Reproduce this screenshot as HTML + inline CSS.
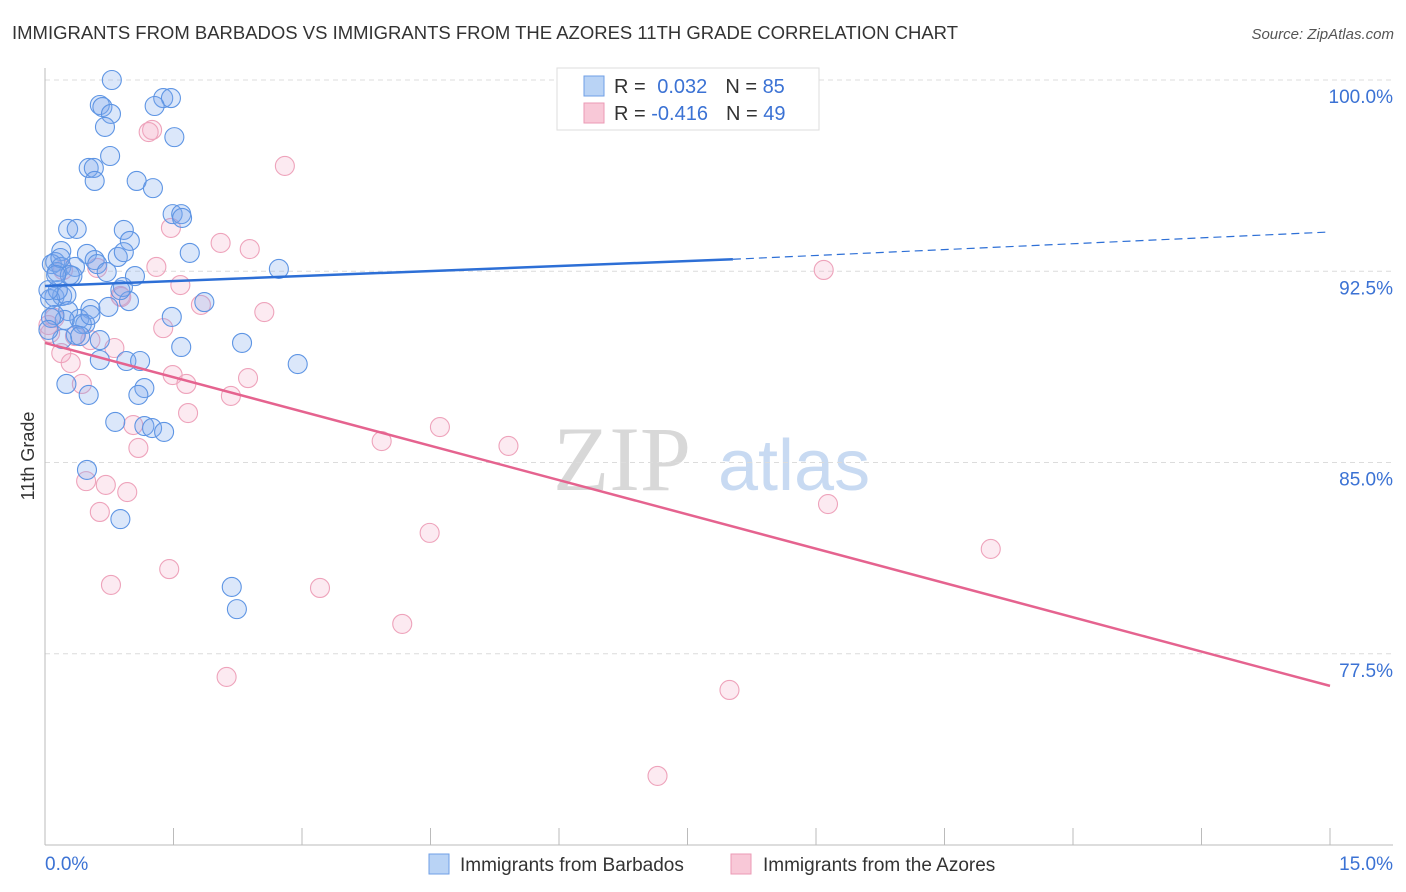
<!DOCTYPE html>
<html><head><meta charset="utf-8"><style>
body{margin:0;background:#fff;font-family:"Liberation Sans",sans-serif;}
svg{display:block}
</style></head><body>
<svg id="chart" width="1406" height="892" viewBox="0 0 1406 892" xmlns="http://www.w3.org/2000/svg">
<text x="12" y="39" font-size="18" fill="#333" textLength="946" lengthAdjust="spacingAndGlyphs">IMMIGRANTS FROM BARBADOS VS IMMIGRANTS FROM THE AZORES 11TH GRADE CORRELATION CHART</text>
<text x="1394" y="39" font-size="15" fill="#555" text-anchor="end" font-style="italic">Source: ZipAtlas.com</text>
<g>
<text x="553" y="490" font-size="92" fill="#d8d8d8" font-family="Liberation Serif,serif">ZIP</text>
<text x="718" y="490" font-size="72" fill="#c8daf2">atlas</text>
</g>
<g id="grid"></g>
<g id="axes"></g>
<g id="pinkpts"></g>
<g id="bluepts"></g>
<g id="lines"></g>
<text transform="translate(34,456) rotate(-90)" font-size="18" fill="#333" text-anchor="middle">11th Grade</text>
<g>
<rect x="557" y="68" width="262" height="62" fill="#fff" stroke="#ddd"/>
<rect x="584" y="76" width="20" height="20" fill="#b9d3f5" stroke="#6f9fe6"/>
<rect x="584" y="103" width="20" height="20" fill="#f8c8d7" stroke="#eb9ab4"/>
<text x="614" y="93" font-size="20" fill="#333">R = <tspan fill="#3b72d4" dx="6">0.032</tspan><tspan fill="#333" dx="18">N = </tspan><tspan fill="#3b72d4">85</tspan></text>
<text x="614" y="120" font-size="20" fill="#333">R = <tspan fill="#3b72d4">-0.416</tspan><tspan fill="#333" dx="18">N = </tspan><tspan fill="#3b72d4">49</tspan></text>
</g>
<g>
<rect x="429" y="854" width="20" height="20" fill="#b9d3f5" stroke="#6f9fe6"/>
<text x="460" y="871" font-size="19" fill="#333">Immigrants from Barbados</text>
<rect x="731" y="854" width="20" height="20" fill="#f8c8d7" stroke="#eb9ab4"/>
<text x="763" y="871" font-size="19" fill="#333">Immigrants from the Azores</text>
</g>
</svg>
<script>
const xTickVals=[0,1.5,3,4.5,6,7.5,9,10.5,12,13.5,15];
const yTickVals=[100,92.5,85,77.5];
const yTickLabels=["100.0%","92.5%","85.0%","77.5%"];
const xEndLabels=["0.0%","15.0%"];
const blueX=[0.78,0.64,0.67,0.77,0.70,1.38,1.47,1.28,1.51,0.76,0.51,0.57,0.58,1.07,1.26,1.49,1.59,1.60,0.27,0.37,0.92,0.99,0.19,0.49,0.85,0.92,1.69,0.12,0.08,0.19,0.35,0.58,0.61,2.73,0.14,0.32,0.72,1.05,0.91,0.11,0.20,0.25,0.06,1.86,0.98,0.74,0.53,1.48,0.27,0.40,0.47,0.43,0.23,0.11,0.36,0.41,0.20,1.59,2.30,0.64,0.95,1.11,2.95,0.25,0.51,1.16,1.09,0.82,1.16,1.25,1.39,0.49,0.88,2.18,2.24,0.07,0.04,0.15,0.18,0.29,0.04,0.64,0.53,0.88,0.13];
const blueY=[100.00,99.02,98.94,98.67,98.16,99.29,99.29,98.98,97.76,97.02,96.55,96.55,96.04,96.04,95.76,94.74,94.74,94.59,94.16,94.16,94.12,93.69,93.29,93.18,93.06,93.25,93.22,92.86,92.78,92.67,92.67,92.94,92.78,92.59,92.47,92.31,92.47,92.31,91.88,91.49,91.53,91.57,91.41,91.29,91.33,91.10,91.02,90.71,90.94,90.63,90.43,90.43,90.59,90.78,90.00,89.96,89.84,89.53,89.69,89.02,88.98,88.98,88.86,88.08,87.65,87.92,87.65,86.59,86.43,86.35,86.20,84.71,82.78,80.12,79.25,90.67,90.20,91.76,93.02,92.35,91.76,89.80,90.78,91.76,92.35];
const pinkX=[1.25,1.21,2.80,1.47,2.05,2.39,0.21,0.61,1.30,1.58,1.82,2.56,0.88,0.89,1.38,0.11,0.04,0.06,0.19,0.30,0.81,0.35,0.53,1.49,1.65,2.37,2.17,1.67,0.43,1.03,1.09,3.93,4.61,5.41,0.48,0.71,0.96,0.64,4.49,9.14,11.04,9.09,0.77,1.45,3.21,4.17,2.12,7.99,7.15];
const pinkY=[98.04,97.96,96.63,94.20,93.61,93.37,92.55,92.63,92.67,91.96,91.18,90.90,91.53,91.49,90.27,90.67,90.39,90.08,89.29,88.90,89.49,89.96,89.80,88.43,88.08,88.31,87.61,86.94,88.08,86.47,85.57,85.84,86.39,85.65,84.27,84.12,83.84,83.06,82.24,83.37,81.61,92.55,80.20,80.82,80.08,78.67,76.59,76.08,72.71];
const blueTrendX=[0,8.03,15];
const blueTrendY=[91.92,92.97,94.04];
const pinkTrendX=[0,15];
const pinkTrendY=[89.69,76.24];

const NS="http://www.w3.org/2000/svg";
const X0=45,X1=1330,Y100=80,PXPER=25.5;
function sx(v){return X0+(v/15)*(X1-X0);}
function sy(v){return Y100+(100-v)*PXPER;}
function mk(tag,attrs,parent){const e=document.createElementNS(NS,tag);for(const k in attrs)e.setAttribute(k,attrs[k]);parent.appendChild(e);return e;}
const grid=document.getElementById('grid'),axes=document.getElementById('axes');
yTickVals.forEach((v,i)=>{
  const l=mk('line',{x1:45,x2:1393,y1:sy(v),y2:sy(v),stroke:'#dcdcdc','stroke-dasharray':'5,4'},grid);
  
  
  const t=mk('text',{x:1393,y:sy(v)+23,'font-size':19,fill:'#3b72d4','text-anchor':'end'},grid);
  
  
  t.textContent=yTickLabels[i];
});
const ya=mk('line',{x1:45,x2:45,y1:68,y2:845,stroke:'#bbb'},axes);


const xa=mk('line',{x1:45,x2:1393,y1:845,y2:845,stroke:'#bbb'},axes);


xTickVals.forEach(v=>{
  const t=mk('line',{x1:sx(v),x2:sx(v),y1:828,y2:845,stroke:'#bbb'},axes);
  
  
});
[[0,'start',45],[15,'end',1393]].forEach((a,i)=>{
  const t=mk('text',{x:a[2],y:870,'font-size':19,fill:'#3b72d4','text-anchor':a[1]},axes);
  
  
  t.textContent=xEndLabels[i];
});
const pp=document.getElementById('pinkpts');
pinkX.forEach((x,i)=>{
  const c=mk('circle',{cx:sx(x),cy:sy(pinkY[i]),r:9.5,fill:'rgba(245,170,198,0.25)',stroke:'#eea3bb','stroke-width':1.1},pp);
  
  
});
const bp=document.getElementById('bluepts');
blueX.forEach((x,i)=>{
  const c=mk('circle',{cx:sx(x),cy:sy(blueY[i]),r:9.5,fill:'rgba(125,170,238,0.28)',stroke:'#5e95e4','stroke-width':1.1},bp);
  
  
});
const lg=document.getElementById('lines');
const b1=mk('line',{x1:sx(blueTrendX[0]),y1:sy(blueTrendY[0]),x2:sx(blueTrendX[1]),y2:sy(blueTrendY[1]),stroke:'#2d6fd6','stroke-width':2.5},lg);


const b2=mk('line',{x1:sx(blueTrendX[1]),y1:sy(blueTrendY[1]),x2:sx(blueTrendX[2]),y2:sy(blueTrendY[2]),stroke:'#2d6fd6','stroke-width':1.2,'stroke-dasharray':'8,5'},lg);


const p1=mk('line',{x1:sx(pinkTrendX[0]),y1:sy(pinkTrendY[0]),x2:sx(pinkTrendX[1]),y2:sy(pinkTrendY[1]),stroke:'#e5638f','stroke-width':2.5},lg);


</script>
</body></html>
